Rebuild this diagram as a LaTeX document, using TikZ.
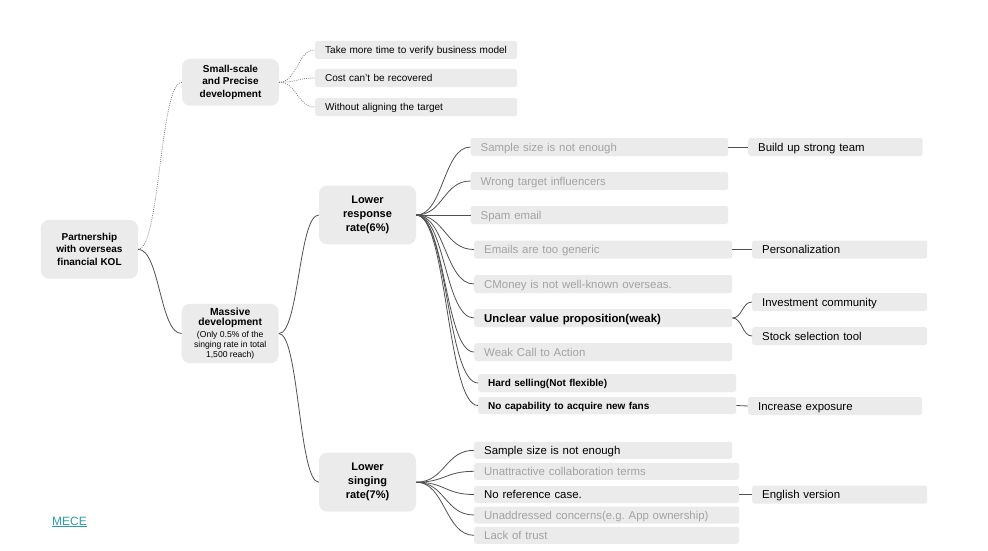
\documentclass[tikz,border=0pt]{standalone}
\usepackage{fontspec}
\setmainfont{Liberation Sans}
\usetikzlibrary{calc}
\definecolor{boxgray}{HTML}{EBEBEB}
\definecolor{grtext}{HTML}{A3A3A3}
\definecolor{linec}{HTML}{505050}
\definecolor{dotc}{HTML}{777777}
\definecolor{mecec}{HTML}{2A9DAA}
\newcommand\mmc[3][]{\draw[conn,#1] let \p1=(#2), \p2=(#3), \n1={0.5*(\x2-\x1)} in (\p1) .. controls +(\n1,0) and +(-\n1,0) .. (\p2);}
\frenchspacing
\begin{document}
\begin{tikzpicture}[x=1pt,y=-1pt,
  mainbox/.style={fill=boxgray, rounded corners=8pt, inner sep=0pt, align=center, minimum width=97pt},
  leafA/.style={fill=boxgray, rounded corners=2.5pt, anchor=west, inner xsep=10pt, inner ysep=0pt, minimum height=18pt, text height=8.2pt, text depth=0pt, align=left, font=\fontsize{11.4}{13}\selectfont},
  leafS/.style={leafA, text height=7.2pt, font=\fontsize{10}{12}\selectfont},
  leafB/.style={leafA, text height=7.2pt, font=\fontsize{10}{12}\selectfont\bfseries},
  gtx/.style={text=grtext},
  conn/.style={draw=linec, line width=0.8pt},
  dconn/.style={draw=dotc, line width=0.8pt, dash pattern=on 0.8pt off 1.3pt}
]
\useasboundingbox (0,0) rectangle (988,551);

% main nodes
\node[mainbox, minimum height=58.7pt, font=\fontsize{10}{12.5}\selectfont\bfseries] (root) at (89.4,249.3) {Partnership\\with overseas\\financial KOL};
\node[mainbox, minimum height=46.7pt, font=\fontsize{10}{12.5}\selectfont\bfseries] (small) at (230.5,82.3) {Small-scale\\and Precise\\development};
\node[mainbox, minimum height=59.3pt, font=\fontsize{8.6}{10}\selectfont] (mass) at (230.2,333.5) {{\fontsize{10.3}{11}\selectfont\bfseries Massive}\\{\fontsize{10.3}{11}\selectfont\bfseries development}\\[2pt](Only 0.5\% of the\\singing rate in total\\1,500 reach)};
\node[mainbox, minimum height=58.6pt, font=\fontsize{11}{14}\selectfont\bfseries] (resp) at (367.5,215) {Lower\\response\\rate(6\%)};
\node[mainbox, minimum height=59pt, font=\fontsize{11}{14}\selectfont\bfseries] (sing) at (367.5,482.2) {Lower\\singing\\rate(7\%)};

% small-scale leaves
\node[leafS, text width=182pt] (s1) at (315,50) {Take more time to verify business model};
\node[leafS, text width=182pt] (s2) at (315,78) {Cost can't be recovered};
\node[leafS, text width=182pt] (s3) at (315,107) {Without aligning the target};

% response leaves
\node[leafA, gtx, text width=237.5pt] (r1) at (470.5,147) {Sample size is not enough};
\node[leafA, gtx, text width=237.5pt] (r2) at (470.5,181) {Wrong target influencers};
\node[leafA, gtx, text width=237.5pt] (r3) at (470.5,215) {Spam email};
\node[leafA, gtx, text width=238pt] (r4) at (474,249.5) {Emails are too generic};
\node[leafA, gtx, text width=238pt] (r5) at (474,284) {CMoney is not well-known overseas.};
\node[leafA, font=\fontsize{11.4}{13}\selectfont\bfseries, text width=238pt] (r6) at (474,318) {Unclear value proposition(weak)};
\node[leafA, gtx, text width=238pt] (r7) at (474,352) {Weak Call to Action};
\node[leafB, text width=238pt] (r8) at (478,383) {Hard selling(Not flexible)};
\node[leafB, text width=238pt, minimum height=17pt] (r9) at (478,405.5) {No capability to acquire new fans};

% right column
\node[leafA, text width=154.5pt] (c1) at (748,147) {Build up strong team};
\node[leafA, text width=155pt] (c2) at (752,249.5) {Personalization};
\node[leafA, text width=155pt] (c3) at (752,302) {Investment community};
\node[leafA, text width=155pt] (c4) at (752,336) {Stock selection tool};
\node[leafA, text width=154pt] (c5) at (748,406) {Increase exposure};
\node[leafA, text width=155pt] (c6) at (752,494.5) {English version};

% singing leaves
\node[leafA, text width=238pt, minimum height=17pt] (g1) at (474,450.3) {Sample size is not enough};
\node[leafA, gtx, text width=245pt, minimum height=17pt] (g2) at (474,471.3) {Unattractive collaboration terms};
\node[leafA, text width=245pt, minimum height=17pt] (g3) at (474,494.5) {No reference case.};
\node[leafA, gtx, text width=245pt, minimum height=17pt] (g4) at (474,515) {Unaddressed concerns(e.g. App ownership)};
\node[leafA, gtx, text width=245pt, minimum height=17pt] (g5) at (474,535.3) {Lack of trust};

% MECE link
\node[anchor=west, inner sep=0pt, text=mecec, font=\fontsize{12}{14}\selectfont] (mece) at (52,522) {\underline{MECE}};

% connectors
\mmc[dconn]{root.east}{small.west}
\mmc{root.east}{mass.west}
\foreach \i in {1,2,3} {\mmc[dconn]{small.east}{s\i.west}}
\mmc{mass.east}{resp.west}
\mmc{mass.east}{sing.west}
\foreach \i in {1,...,9} {\mmc{resp.east}{r\i.west}}
\foreach \i in {1,...,5} {\mmc{sing.east}{g\i.west}}
\mmc{r1.east}{c1.west}
\mmc{r4.east}{c2.west}
\mmc{r6.east}{c3.west}
\mmc{r6.east}{c4.west}
\mmc{r9.east}{c5.west}
\mmc{g3.east}{c6.west}
\end{tikzpicture}
\end{document}
